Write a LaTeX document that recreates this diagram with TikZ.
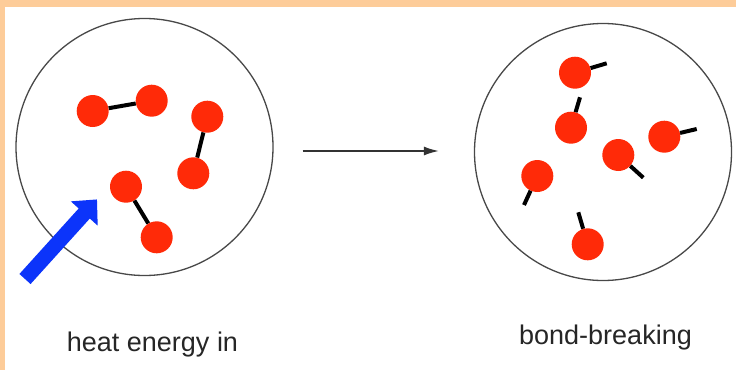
\documentclass[tikz,border=0pt]{standalone}
\usepackage{fontspec}
\setmainfont{Liberation Sans}
\usetikzlibrary{arrows.meta}

\definecolor{peach}{RGB}{253,204,153}
\definecolor{atomred}{RGB}{255,42,8}
\definecolor{heatblue}{RGB}{12,52,250}
\definecolor{rim}{RGB}{72,72,72}

\begin{document}
\begin{tikzpicture}[x=1pt, y=-1pt,
    atom/.style={circle, fill=atomred, minimum size=32pt, inner sep=0pt},
    bond/.style={line width=4pt, black},
    flask/.style={circle, draw=rim, line width=1.3pt, minimum size=257pt, inner sep=0pt},
    caption/.style={anchor=base, text=black!85, font=\fontsize{27}{32}\selectfont}]

    % Frame
    \useasboundingbox (0,0) rectangle (736,370);
    \fill[peach] (0,0) rectangle (736,370);
    \fill[white] (5,7) rectangle (736,370);

    % Containers
    \node[flask] (before) at (144.5,147) {};
    \node[flask] (after) at (603,152) {};

    % Process arrow
    \draw[black!80, line width=1.5pt, -{Latex[length=15pt,width=9pt]},
          shorten <=29pt, shorten >=35pt] (before.east |- 0,151) -- (after.west |- 0,151);

    % Molecules (bonds intact)
    \node[atom] (a1) at (92.7,111) {};
    \node[atom] (a2) at (151.7,100.7) {};
    \node[atom] (b1) at (207.3,116.7) {};
    \node[atom] (b2) at (193.3,173.3) {};
    \node[atom] (c1) at (126,186.7) {};
    \node[atom] (c2) at (156.7,237.3) {};
    \draw[bond] (a1) -- (a2);
    \draw[bond] (b1) -- (b2);
    \draw[bond] (c1) -- (c2);

    % Atoms (bonds broken)
    \node[atom] (d) at (575,72.7) {};
    \node[atom] (e) at (571,127.7) {};
    \node[atom] (f) at (664.3,136.7) {};
    \node[atom] (g) at (618.3,155) {};
    \node[atom] (h) at (537.3,176) {};
    \node[atom] (i) at (587.7,244.3) {};
    \coordinate (d-end) at (606.7,63.3);
    \coordinate (e-end) at (580,97.3);
    \coordinate (f-end) at (696.7,129);
    \coordinate (g-end) at (643.3,177.7);
    \coordinate (h-end) at (524,205);
    \coordinate (i-end) at (578.3,212.3);
    \foreach \a in {d,e,f,g,h,i}
        \draw[bond] (\a) -- (\a-end);

    % Heat going in
    \coordinate (heat-tail) at (25,279);
    \coordinate (heat-tip) at (97,199.4);
    \draw[heatblue, line width=15pt, -{Triangle[length=19pt,width=35pt]}] (heat-tail) -- (heat-tip);

    % Labels
    \node[caption] (heat-label) at (152.5,351.7) {heat energy in};
    \node[caption] (break-label) at (605.5,344.3) {bond-breaking};
\end{tikzpicture}
\end{document}
